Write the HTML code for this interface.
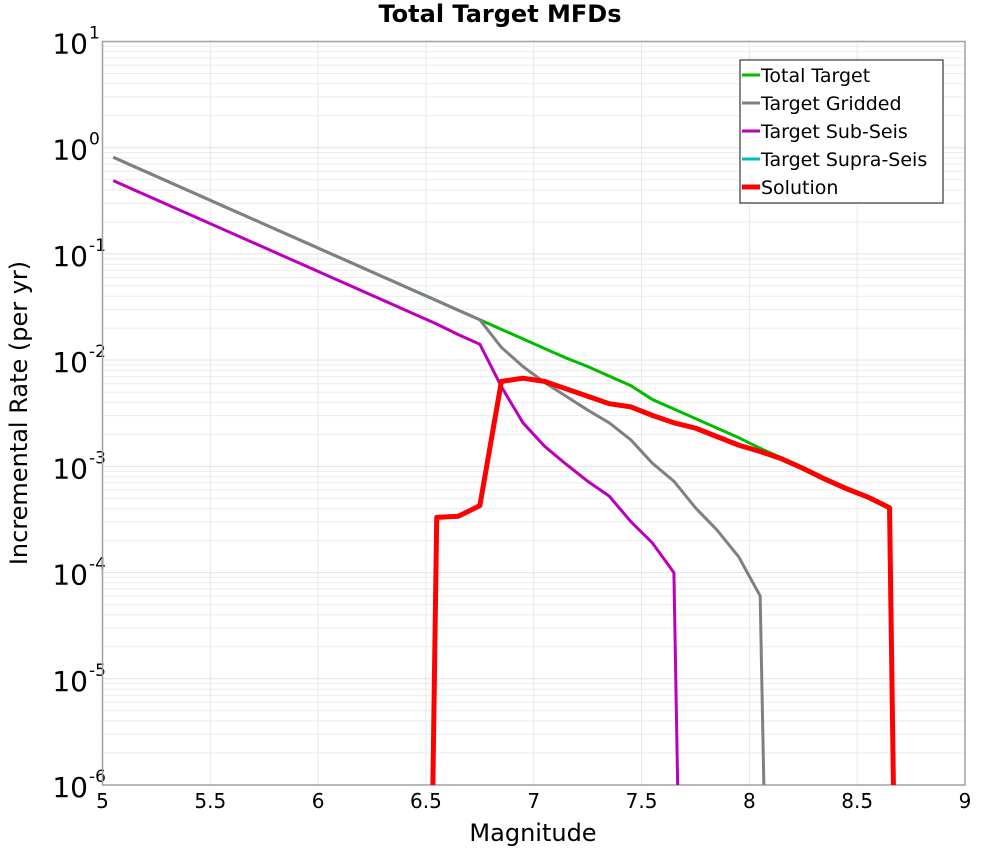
<!DOCTYPE html>
<html><head><meta charset="utf-8"><style>
body{margin:0;background:#fff;}
svg{display:block;font-family:"DejaVu Sans","Liberation Sans",sans-serif;}
</style></head><body>
<svg id="chart" width="1000" height="850">
<text x="500" y="22" text-anchor="middle" font-size="24" font-weight="bold">Total Target MFDs</text>
<g id="grid"></g>
<g id="axes"></g>
<g id="series"></g>
<text x="533" y="841" text-anchor="middle" font-size="24">Magnitude</text>
<text transform="translate(27,413) rotate(-90)" text-anchor="middle" font-size="24">Incremental Rate (per yr)</text>
<g id="legend"></g>
</svg>
<script>
const totalMags=[5.05,5.15,5.25,5.35,5.45,5.55,5.65,5.75,5.85,5.95,6.05,6.15,6.25,6.35,6.45,6.55,6.65,6.75,6.85,6.95,7.05,7.15,7.25,7.35,7.45,7.55,7.65,7.75,7.85,7.95,8.05,8.15,8.25,8.35,8.45,8.55,8.65];
const totalLog=[-0.09,-0.18,-0.27,-0.36,-0.45,-0.54,-0.63,-0.72,-0.81,-0.90,-0.99,-1.08,-1.17,-1.26,-1.35,-1.44,-1.53,-1.62,-1.71,-1.80,-1.89,-1.98,-2.06,-2.15,-2.24,-2.37,-2.46,-2.55,-2.64,-2.73,-2.83,-2.92,-3.01,-3.11,-3.20,-3.28,-3.38];
const gridMags=[5.05,5.15,5.25,5.35,5.45,5.55,5.65,5.75,5.85,5.95,6.05,6.15,6.25,6.35,6.45,6.55,6.65,6.75,6.85,6.95,7.05,7.15,7.25,7.35,7.45,7.55,7.65,7.75,7.85,7.95,8.05,8.07];
const gridLog=[-0.09,-0.18,-0.27,-0.36,-0.45,-0.54,-0.63,-0.72,-0.81,-0.90,-0.99,-1.08,-1.17,-1.26,-1.35,-1.44,-1.53,-1.62,-1.88,-2.06,-2.21,-2.34,-2.47,-2.59,-2.75,-2.97,-3.14,-3.39,-3.60,-3.85,-4.22,-7];
const subMags=[5.05,5.15,5.25,5.35,5.45,5.55,5.65,5.75,5.85,5.95,6.05,6.15,6.25,6.35,6.45,6.55,6.65,6.75,6.85,6.95,7.05,7.15,7.25,7.35,7.45,7.55,7.65,7.67];
const subLog=[-0.31,-0.40,-0.49,-0.58,-0.67,-0.76,-0.85,-0.94,-1.03,-1.12,-1.21,-1.30,-1.39,-1.48,-1.57,-1.66,-1.76,-1.85,-2.25,-2.59,-2.81,-2.98,-3.14,-3.28,-3.52,-3.72,-4.00,-7];
const solMags=[6.53,6.55,6.65,6.75,6.85,6.95,7.05,7.15,7.25,7.35,7.45,7.55,7.65,7.75,7.85,7.95,8.05,8.15,8.25,8.35,8.45,8.55,8.65,8.67];
const solLog=[-7,-3.48,-3.47,-3.37,-2.20,-2.17,-2.20,-2.27,-2.34,-2.41,-2.44,-2.52,-2.59,-2.64,-2.72,-2.80,-2.86,-2.93,-3.02,-3.12,-3.21,-3.29,-3.39,-7];
const xTicks=[5,5.5,6,6.5,7,7.5,8,8.5,9];
const yDecades=[1,0,-1,-2,-3,-4,-5,-6];

const L=102.5,R=965,T=41.5,B=785;
const xs=m=>L+(m-5)/4*(R-L);
const ys=lg=>{const c=Math.max(lg,-6.3);return T+(1-c)/7*(B-T);};
const NS="http://www.w3.org/2000/svg";
function mk(tag,attrs,parent){const e=document.createElementNS(NS,tag);for(const k in attrs)e.setAttribute(k,attrs[k]);parent.appendChild(e);return e;}
const grid=document.getElementById('grid'),axes=document.getElementById('axes'),series=document.getElementById('series'),legend=document.getElementById('legend');
const svg=document.getElementById('chart');
const cp=mk('clipPath',{id:'clip'},svg);mk('rect',{x:L,y:T,width:R-L,height:B-T},cp);
series.setAttribute('clip-path','url(#clip)');

for(let d=-6;d<1;d++){for(let k=2;k<=9;k++){const y=ys(d+Math.log10(k));
const l=mk('line',{x1:L,x2:R,y1:y,y2:y,stroke:'#ebebeb','stroke-width':1},grid);

}}
yDecades.forEach(d=>{const y=ys(d);
const l=mk('line',{x1:L,x2:R,y1:y,y2:y,stroke:'#e3e3e3','stroke-width':1},grid);


const t=mk('text',{x:88,y:y+12,'text-anchor':'end','font-size':28},axes);


t.textContent='10';
const s=mk('text',{x:89,y:y-3,'font-size':17},axes);


s.textContent=String(d);});
xTicks.forEach(v=>{const x=xs(v);
const l=mk('line',{x1:x,x2:x,y1:T,y2:B,stroke:'#e8e8e8','stroke-width':1},grid);


const t=mk('text',{x:x,y:808,'text-anchor':'middle','font-size':20},axes);


t.textContent=String(v);});
const frame=mk('rect',{x:L,y:T,width:R-L,height:B-T,fill:'none',stroke:'#a0a0a0','stroke-width':1.5},axes);



function line(mags,logs,color,w,name){
const p=mk('polyline',{points:mags.map((m,i)=>xs(m)+','+ys(logs[i])).join(' '),fill:'none',stroke:color,'stroke-width':w,'stroke-linejoin':'round'},series);

}
line(totalMags,totalLog,'#00bb00',3,'total-target-line');
line(gridMags,gridLog,'#808080',3,'target-gridded-line');
line(subMags,subLog,'#bb00bb',3,'target-sub-seis-line');
line(solMags,solLog,'#ff0000',5,'solution-line');

const box=mk('rect',{x:740,y:60,width:203,height:143,fill:'#fff',stroke:'#444','stroke-width':1.3},legend);


const items=[['Total Target','#00bb00',3],['Target Gridded','#808080',3],['Target Sub-Seis','#bb00bb',3],['Target Supra-Seis','#00bbbb',3],['Solution','#ff0000',5]];
items.forEach((it,i)=>{const y=75+i*28;
const l=mk('line',{x1:742,x2:760,y1:y,y2:y,stroke:it[1],'stroke-width':it[2]},legend);


const t=mk('text',{x:761,y:y+7,'font-size':19},legend);


t.textContent=it[0];});
</script>
</body></html>
